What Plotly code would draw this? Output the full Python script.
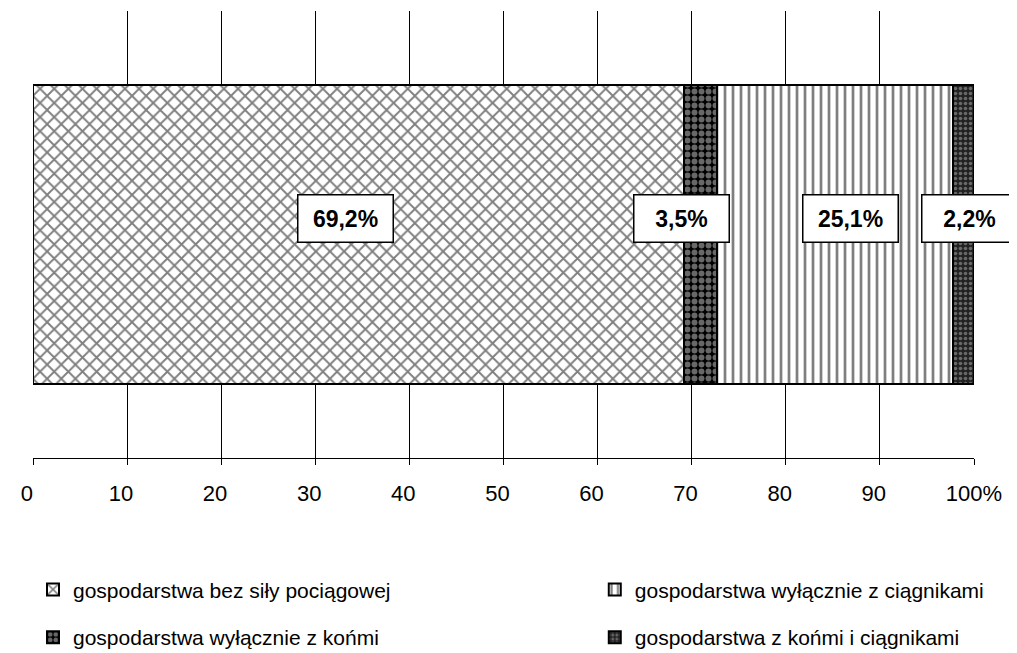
import plotly.graph_objects as go

CATEGORIES = ['gospodarstwa bez siły pociągowej', 'gospodarstwa wyłącznie z końmi',
              'gospodarstwa wyłącznie z ciągnikami', 'gospodarstwa z końmi i ciągnikami']
SHARES = [69.2, 3.5, 25.1, 2.2]
LABELS = ['69,2%', '3,5%', '25,1%', '2,2%']
TICK_VALS = list(range(0, 101, 10))
TICK_TEXT = [str(v) for v in range(0, 100, 10)] + ['100%']

# styling per segment
patterns = [dict(shape='x', size=10, solidity=0.34, fgcolor='black', bgcolor='white'),
            dict(shape='.', size=7, solidity=0.55, fgcolor='#d0d0d0', bgcolor='black'),
            dict(shape='|', size=8, solidity=0.34, fgcolor='black', bgcolor='white'),
            dict(shape='.', size=5, solidity=0.4, fgcolor='#b0b0b0', bgcolor='#222222')]
legend_ids = ['legend', 'legend2', 'legend3', 'legend4']
label_shift = [-13, -19, 15, 6]

fig = go.Figure()
for name, val, pat, lg in zip(CATEGORIES, SHARES, patterns, legend_ids):
    fig.add_trace(go.Bar(y=[''], x=[val], name=name, orientation='h', legend=lg, showlegend=True,
                         marker=dict(color='white', line=dict(color='black', width=2), pattern=pat)))

start = 0
for val, txt, dx in zip(SHARES, LABELS, label_shift):
    fig.add_annotation(x=start + val / 2, y=0, text='<b>%s</b>' % txt, showarrow=False,
                       xshift=dx, yshift=16, width=92, height=44, borderpad=1,
                       bgcolor='white', bordercolor='black', borderwidth=1.5,
                       font=dict(size=23, color='black'))
    start += val

# numeric tick labels sit a little left of their ticks in the original
tick_text = [t + '\u2007' if not t.endswith('%') else t for t in TICK_TEXT]

leg = dict(xanchor='left', yanchor='middle', orientation='v', font=dict(size=21), itemclick=False,
           yref='container', bgcolor='rgba(0,0,0,0)')
fig['layout'].update(margin=dict(l=25, r=43, b=195, t=3))
fig.update_layout(width=1009, height=645, barmode='stack', bargap=0.333, showlegend=True,
                  plot_bgcolor='white', paper_bgcolor='white',
                  font=dict(family='Liberation Sans, Arial', color='black'),
                  xaxis=dict(range=[0, 100], tickmode='array', tickvals=TICK_VALS, ticktext=tick_text,
                             showgrid=True, gridcolor='black', gridwidth=1, zeroline=False,
                             showline=True, linecolor='black', linewidth=1,
                             ticks='outside', ticklen=6, tickcolor='black', ticklabelstandoff=10,
                             tickfont=dict(size=22), fixedrange=True),
                  yaxis=dict(showticklabels=False, showgrid=False, zeroline=False, fixedrange=True),
                  legend=dict(x=0.0, y=0.098, **leg),
                  legend2=dict(x=0.0, y=0.024, **leg),
                  legend3=dict(x=0.597, y=0.098, **leg),
                  legend4=dict(x=0.597, y=0.024, **leg))

fig.write_html("out.html")
